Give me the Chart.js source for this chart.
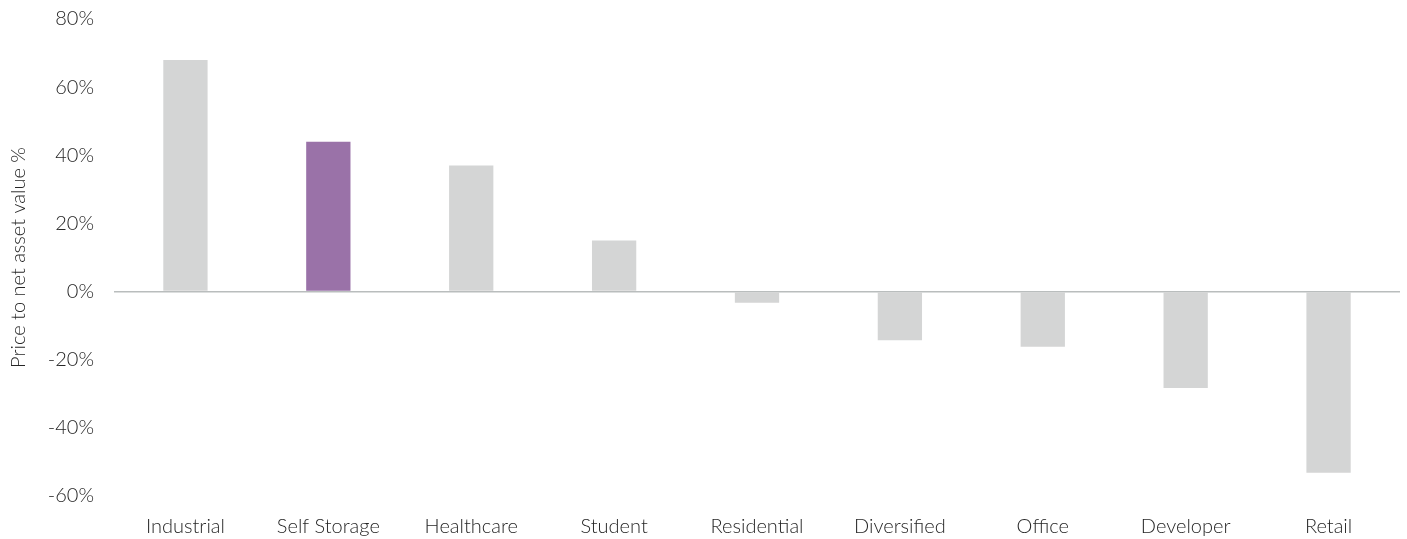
<!DOCTYPE html>
<html>
<head>
<meta charset="utf-8">
<script src="https://cdn.jsdelivr.net/npm/chart.js@4/dist/chart.umd.min.js"></script>
<style>
  html, body { margin: 0; padding: 0; background: #ffffff; }
  #wrap { width: 1407px; height: 539px; position: relative; }
</style>
</head>
<body>
<div id="wrap"><canvas id="chart" width="1407" height="539"></canvas></div>
<script>
// Price to net asset value by property sector
const sectors = ['Industrial', 'Self Storage', 'Healthcare', 'Student', 'Residential', 'Diversified', 'Office', 'Developer', 'Retail'];
const premiumPct = [68, 44, 37, 15, -3.3, -14.3, -16.2, -28.3, -53.2];
const highlightSector = 'Self Storage';
const yTicks = [-60, -40, -20, 0, 20, 40, 60, 80];

const grey = '#d4d5d5';
const purple = '#9a72a8';
const textColor = '#262626';
const fontFamily = "Lato, 'Open Sans', sans-serif";
const labelFont = { family: fontFamily, size: 20, weight: '300' };

const barColors = sectors.map(s => s === highlightSector ? purple : grey);

new Chart(document.getElementById('chart'), {
  type: 'bar',
  data: {
    labels: sectors,
    datasets: [{
      data: premiumPct,
      backgroundColor: barColors,
      borderWidth: 0,
      categoryPercentage: 1,
      barPercentage: 0.31
    }]
  },
  options: {
    responsive: false,
    animation: false,
    layout: { padding: { top: 0, right: 7, left: 7, bottom: 0 } },
    plugins: { legend: { display: false }, tooltip: { enabled: false } },
    scales: {
      x: {
        grid: { display: false },
        border: { display: false },
        afterFit: axis => { axis.height = 43; },
        ticks: {
          color: textColor,
          padding: 11,
          maxRotation: 0,
          font: labelFont
        }
      },
      y: {
        min: yTicks[0],
        max: yTicks[yTicks.length - 1],
        afterBuildTicks: axis => { axis.ticks = yTicks.map(v => ({ value: v })); },
        afterFit: axis => { axis.width = 107; axis.paddingTop = 19; },
        border: { display: false },
        grid: {
          drawTicks: false,
          color: ctx => ctx.tick && ctx.tick.value === 0 ? '#b9bdbd' : 'rgba(0,0,0,0)',
          lineWidth: ctx => ctx.tick && ctx.tick.value === 0 ? 1.6 : 0
        },
        ticks: {
          color: textColor,
          padding: 20,
          callback: v => v + '%',
          font: labelFont
        },
        title: {
          display: true,
          text: 'Price to net asset value %',
          color: textColor,
          padding: { top: 0, bottom: 0 },
          font: labelFont
        }
      }
    }
  }
});
</script>
</body>
</html>
